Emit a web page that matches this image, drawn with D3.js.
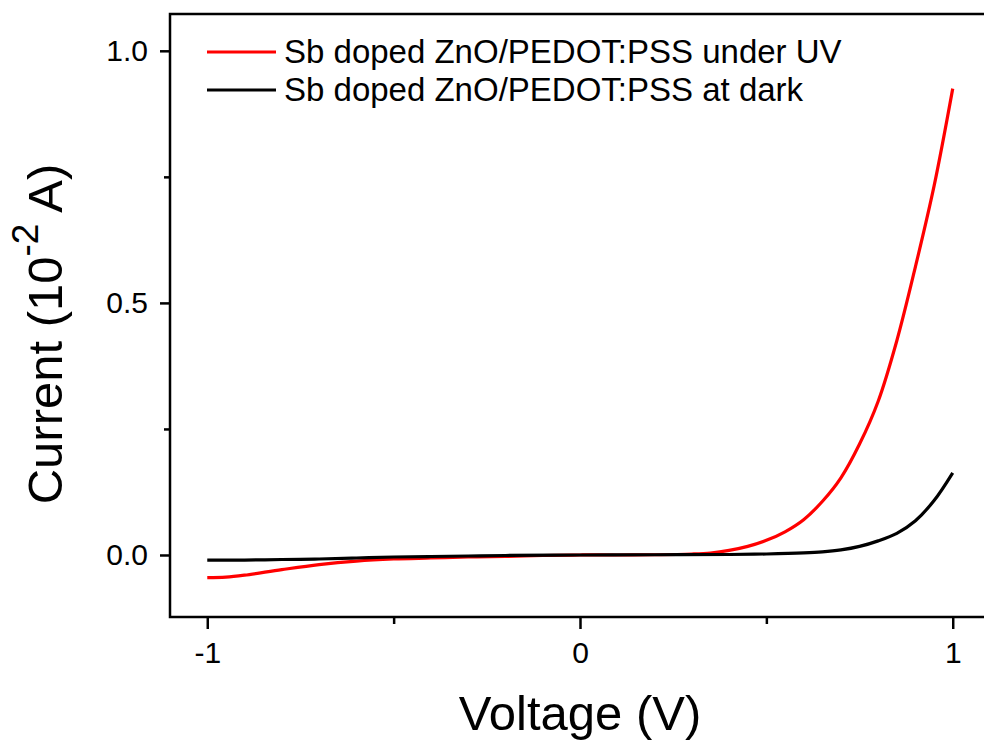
<!DOCTYPE html>
<html>
<head>
<meta charset="utf-8">
<script src="https://cdn.jsdelivr.net/npm/d3@7"></script>
<style>
  body { margin: 0; background: #fff; }
  svg { display: block; font-family: "Liberation Sans", Arial, sans-serif; }
</style>
</head>
<body>
<div id="chart"></div>
<script>
// I-V data (current in 1e-2 A)
var uvVoltage = [-1, -0.95, -0.9, -0.8, -0.7, -0.6, -0.5, -0.4, -0.3, -0.2, -0.1, 0, 0.1, 0.2, 0.3, 0.35, 0.4, 0.45, 0.5, 0.55, 0.6, 0.65, 0.7, 0.75, 0.8, 0.85, 0.9, 0.95, 1.0];
var uvCurrent = [-0.045, -0.044, -0.040, -0.029, -0.019, -0.012, -0.008, -0.006, -0.004, -0.003, -0.001, 0, 0, 0.0005, 0.002, 0.004, 0.009, 0.017, 0.029, 0.046, 0.070, 0.106, 0.153, 0.220, 0.305, 0.425, 0.572, 0.732, 0.925];

var darkVoltage = [-1, -0.9, -0.8, -0.7, -0.6, -0.5, -0.4, -0.3, -0.2, 0, 0.2, 0.4, 0.5, 0.6, 0.65, 0.7, 0.75, 0.8, 0.85, 0.9, 0.95, 1.0];
var darkCurrent = [-0.010, -0.010, -0.009, -0.008, -0.006, -0.004, -0.003, -0.002, -0.001, 0, 0.0005, 0.001, 0.002, 0.004, 0.006, 0.010, 0.017, 0.028, 0.043, 0.068, 0.108, 0.163];

var seriesNames = ['Sb doped ZnO/PEDOT:PSS under UV', 'Sb doped ZnO/PEDOT:PSS at dark'];
var seriesColors = ['#ff0000', '#000000'];

var xMajor = [-1, 0, 1];
var xMinor = [-0.5, 0.5];
var yMajor = [0, 0.5, 1.0];
var yMinor = [0.25, 0.75];

// Layout
var fullWidth = 984;
var fullHeight = 742;
var plot = { left: 170, top: 14, right: 990, bottom: 617 };

var svg = d3.select('#chart').append('svg')
    .attr('width', fullWidth)
    .attr('height', fullHeight);

var xScale = d3.scaleLinear().domain([-1.1, 1.1]).range([plot.left, plot.right]);
var yScale = d3.scaleLinear().domain([-0.123, 1.073]).range([plot.bottom, plot.top]);

// Minor ticks (no labels)
svg.append('g')
    .attr('transform', 'translate(0,' + plot.bottom + ')')
    .call(d3.axisBottom(xScale).tickValues(xMinor).tickSize(7).tickFormat(''))
    .call(function (g) { g.select('.domain').remove(); })
    .selectAll('line').attr('stroke-width', 2.5);

svg.append('g')
    .attr('transform', 'translate(' + plot.left + ',0)')
    .call(d3.axisLeft(yScale).tickValues(yMinor).tickSize(6).tickFormat(''))
    .call(function (g) { g.select('.domain').remove(); })
    .selectAll('line').attr('stroke-width', 2.5);

// Major ticks with labels
var xAxisEle = svg.append('g')
    .attr('transform', 'translate(0,' + plot.bottom + ')')
    .call(d3.axisBottom(xScale).tickValues(xMajor).tickSize(12).tickPadding(13)
        .tickFormat(function (d) { return d3.format('d')(d).replace('−', '-'); }));
xAxisEle.select('.domain').remove();
xAxisEle.selectAll('line').attr('stroke-width', 2.5);
xAxisEle.selectAll('text').style('font-size', '30px').attr('fill', '#000');

var yAxisEle = svg.append('g')
    .attr('transform', 'translate(' + plot.left + ',0)')
    .call(d3.axisLeft(yScale).tickValues(yMajor).tickSize(10).tickPadding(12)
        .tickFormat(d3.format('.1f')));
yAxisEle.select('.domain').remove();
yAxisEle.selectAll('line').attr('stroke-width', 2.5);
yAxisEle.selectAll('text').style('font-size', '30px').attr('fill', '#000');

// Frame
svg.append('rect')
    .attr('x', plot.left)
    .attr('y', plot.top)
    .attr('width', plot.right - plot.left)
    .attr('height', plot.bottom - plot.top)
    .attr('fill', 'none')
    .attr('stroke', '#000')
    .attr('stroke-width', 2.5);

// Curves
var line = d3.line()
    .x(function (d) { return xScale(d[0]); })
    .y(function (d) { return yScale(d[1]); })
    .curve(d3.curveCatmullRom.alpha(0.5));

var darkPts = darkVoltage.map(function (v, i) { return [v, darkCurrent[i]]; });
var uvPts = uvVoltage.map(function (v, i) { return [v, uvCurrent[i]]; });

svg.append('path')
    .datum(uvPts)
    .attr('d', line)
    .attr('fill', 'none')
    .attr('stroke', seriesColors[0])
    .attr('stroke-width', 3.2);

svg.append('path')
    .datum(darkPts)
    .attr('d', line)
    .attr('fill', 'none')
    .attr('stroke', seriesColors[1])
    .attr('stroke-width', 3.2);

// Legend
var legend = svg.append('g').attr('class', 'legend');
seriesNames.forEach(function (name, i) {
    var ly = 52 + i * 38;
    legend.append('line')
        .attr('x1', 207).attr('x2', 276)
        .attr('y1', ly).attr('y2', ly)
        .attr('stroke', seriesColors[i])
        .attr('stroke-width', 3);
    legend.append('text')
        .attr('x', 284)
        .attr('y', ly + 11)
        .style('font-size', '33px')
        .attr('fill', '#000')
        .text(name);
});

// Axis titles
svg.append('text')
    .attr('x', 580)
    .attr('y', 730)
    .attr('text-anchor', 'middle')
    .style('font-size', '49px')
    .attr('fill', '#000')
    .text('Voltage (V)');

var yTitle = svg.append('text')
    .attr('transform', 'translate(62,334) rotate(-90)')
    .attr('text-anchor', 'middle')
    .style('font-size', '49px')
    .attr('fill', '#000');
yTitle.append('tspan').text('Current (10');
yTitle.append('tspan').attr('dy', -24).style('font-size', '37px').text('-2');
yTitle.append('tspan').attr('dy', 24).text(' A)');
</script>
</body>
</html>
